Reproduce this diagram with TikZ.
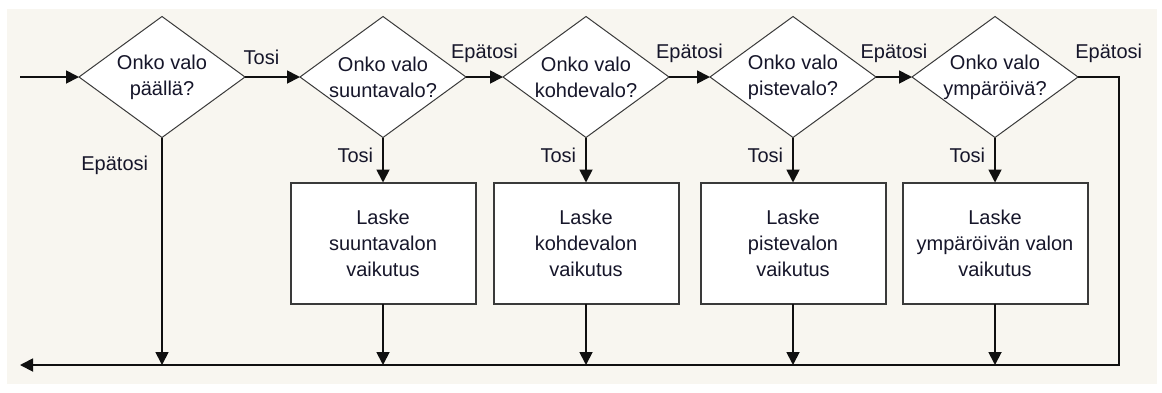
\documentclass[tikz,border=0pt]{standalone}
\usepackage{fontspec}
\setmainfont{Liberation Sans}
\usepackage{tikz}
\usetikzlibrary{arrows.meta,positioning,shapes.geometric}
\definecolor{flpaper}{HTML}{F8F6F0}
\definecolor{flink}{HTML}{16162A}
\definecolor{flline}{HTML}{101010}
\definecolor{flframe}{HTML}{3A3A3A}

\begin{document}
\begin{tikzpicture}[x=0.5pt,y=-0.5pt,
  ques/.style={diamond,shape aspect=1.372,draw=flframe,line width=0.5pt,fill=white,
    align=center,font=\fontsize{10}{13}\selectfont,text=flink,inner sep=-2pt,
    outer sep=0pt,minimum width=83pt,minimum height=60.5pt},
  work/.style={draw=flframe,line width=1pt,fill=white,align=center,
    font=\fontsize{10}{13}\selectfont,text=flink,outer sep=0pt,
    minimum width=92.5pt,minimum height=60.5pt},
  ans/.style={font=\fontsize{10}{12}\selectfont,text=flink,inner sep=1pt,text depth=0pt},
  arr/.style={-{Triangle[length=6.5pt,width=6.5pt]},line width=0.9pt,flline}]
  \useasboundingbox (0,0) rectangle (1162,392);
  \fill[flpaper] (7,9) rectangle (1157,384);
  % questions
  \node[ques] (d1) at (162,77) {Onko valo\\päällä?};
  \node[ques,right=27.5pt of d1] (d2) {Onko valo\\suuntavalo?};
  \node[ques,right=18.5pt of d2] (d3) {Onko valo\\kohdevalo?};
  \node[ques,right=20.5pt of d3] (d4) {Onko valo\\pistevalo?};
  \node[ques,right=18pt of d4] (d5) {Onko valo\\ympäröivä?};
  % contributions
  \node[work,below=22.5pt of d2] (b2) {Laske\\suuntavalon\\vaikutus};
  \node[work,below=22.5pt of d3] (b3) {Laske\\kohdevalon\\vaikutus};
  \node[work,below=22.5pt of d4] (b4) {Laske\\pistevalon\\vaikutus};
  \node[work,below=22.5pt of d5] (b5) {Laske\\ympäröivän valon\\vaikutus};
  \coordinate (in) at (20,77);
  \coordinate (ne) at (1119,77);
  \coordinate (se) at (1119,365);
  \coordinate (out) at (20,365);
  \draw[arr] (in) -- (d1.west);
  \draw[arr] (d1.east) -- node[ans,above=5pt,pos=0.3] {Tosi} (d2.west);
  \draw[arr] (d2.east) -- node[ans,above=8pt] {Epätosi} (d3.west);
  \draw[arr] (d3.east) -- node[ans,above=8pt] {Epätosi} (d4.west);
  \draw[arr] (d4.east) -- node[ans,above=8pt] {Epätosi} (d5.west);
  \draw[arr] (d5.east) -- node[ans,above=8pt,pos=0.75] {Epätosi} (ne) -- (se) -- (out);
  \draw[arr] (d1.south) -- node[ans,left=5.5pt,pos=0.114] {Epätosi} (d1.south |- out);
  \foreach \i in {2,...,5} {
    \draw[arr] (d\i.south) -- node[ans,left=3.5pt,pos=0.4] {Tosi} (b\i.north);
    \draw[arr] (b\i.south) -- (b\i.south |- out);
  }
\end{tikzpicture}
\end{document}
